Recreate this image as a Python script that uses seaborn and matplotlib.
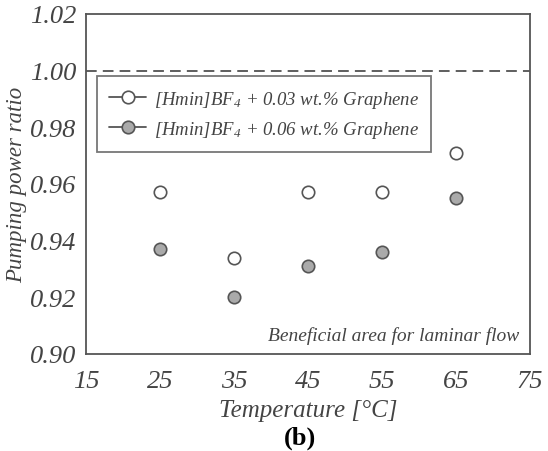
import matplotlib
matplotlib.use("Agg")
import matplotlib.pyplot as plt
from matplotlib.lines import Line2D
import seaborn as sns
import pandas as pd

temperature = [25, 35, 45, 55, 65]
ratio_003 = [0.957, 0.934, 0.957, 0.957, 0.971]
ratio_006 = [0.937, 0.920, 0.931, 0.936, 0.955]
series_names = ["[Hmin]BF$_4$ + 0.03 wt.% Graphene", "[Hmin]BF$_4$ + 0.06 wt.% Graphene"]
x_ticks = [15, 25, 35, 45, 55, 65, 75]
y_ticks = [0.90, 0.92, 0.94, 0.96, 0.98, 1.00, 1.02]

sns.set_style("white")
plt.rcParams['font.family'] = ['Liberation Serif', 'DejaVu Serif']
plt.rcParams['mathtext.fontset'] = 'custom'
plt.rcParams['mathtext.it'] = 'Liberation Serif:italic'
plt.rcParams['mathtext.rm'] = 'Liberation Serif:italic'

gray = "#555555"
txt = "#444444"
fills = ["white", "#aaaaaa"]

df = pd.DataFrame({
    "T": temperature * 2,
    "r": ratio_003 + ratio_006,
    "s": [series_names[0]] * 5 + [series_names[1]] * 5,
})

fig = plt.figure(figsize=(5.48, 4.52), dpi=100)
ax = fig.add_axes([0.157, 0.215, 0.810, 0.752])

for name, fc in zip(series_names, fills):
    sub = df[df["s"] == name]
    sns.scatterplot(data=sub, x="T", y="r", ax=ax, s=80, color=fc,
                    edgecolor=gray, linewidth=1.2, zorder=3, legend=False)

ax.axhline(1.00, color="#333333", linestyle=(0, (7, 4)), linewidth=1.1, zorder=1)

ax.set_xlim(15, 75)
ax.set_ylim(0.90, 1.02)
ax.set_xticks(x_ticks)
ax.set_yticks(y_ticks)
ax.set_xticklabels([str(v) for v in x_ticks])
ax.set_yticklabels([f"{v:.2f}" for v in y_ticks])
for sp in ax.spines.values():
    sp.set_color(gray)
    sp.set_linewidth(1.3)
ax.tick_params(axis="both", direction="inout", length=10, width=1.2, color=gray,
               labelsize=19, labelcolor=txt)
ax.tick_params(axis="y", pad=2)
ax.tick_params(axis="x", pad=7)
for lab in ax.get_xticklabels() + ax.get_yticklabels():
    lab.set_fontstyle("italic")

ax.set_xlabel("Temperature [°C]", fontsize=18, style="italic", color=txt, labelpad=5)
ax.set_ylabel("Pumping power ratio", fontsize=16.5, style="italic", color=txt, labelpad=2)

ax.text(0.975, 0.055, "Beneficial area for laminar flow", transform=ax.transAxes,
        ha="right", va="center", fontsize=14, style="italic", color=txt)

handles = [Line2D([0], [0], color=gray, lw=1.3, marker="o", markersize=9,
                  markerfacecolor=fc, markeredgecolor=gray, markeredgewidth=1.2)
           for fc in fills]
leg = ax.legend(handles, series_names, loc="upper left", bbox_to_anchor=(0.024, 0.816),
                borderaxespad=0, fontsize=13.5, frameon=True, fancybox=False,
                handlelength=2.0, handletextpad=0.4, borderpad=0.65, labelspacing=0.5)
leg.get_frame().set_edgecolor(gray)
leg.get_frame().set_linewidth(1.3)
for t in leg.get_texts():
    t.set_fontstyle("italic")
    t.set_color(txt)

fig.text(0.548, 0.03, "(b)", ha="center", va="center", fontsize=19, fontweight="bold",
         color="black")

fig.savefig("out.png", dpi=100)
